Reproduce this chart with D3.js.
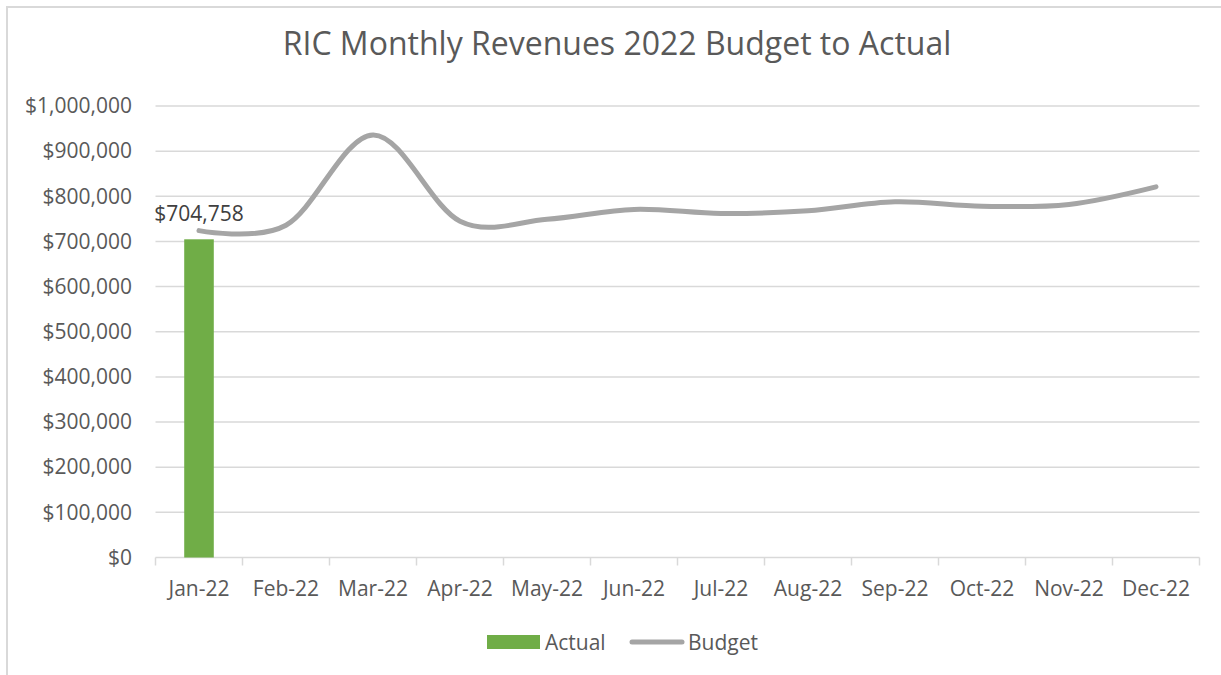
<!DOCTYPE html>
<html>
<head>
<meta charset="utf-8">
<script src="https://cdn.jsdelivr.net/npm/d3@7"></script>
<style>
  html, body { margin: 0; padding: 0; background: #ffffff; }
  svg { display: block; font-family: "Open Sans", "Noto Sans", sans-serif; }
</style>
</head>
<body>
<svg id="chart" width="1221" height="675"></svg>
<script>
// Monthly revenue data, 2022
const months = ["Jan-22", "Feb-22", "Mar-22", "Apr-22", "May-22", "Jun-22",
                "Jul-22", "Aug-22", "Sep-22", "Oct-22", "Nov-22", "Dec-22"];
const actual = [704758, null, null, null, null, null, null, null, null, null, null, null];
const budget = [724000, 736000, 936000, 745000, 749000, 771000,
                762000, 768000, 788000, 778000, 782000, 821000];
const yTicks = [0, 100000, 200000, 300000, 400000, 500000,
                600000, 700000, 800000, 900000, 1000000];
const seriesNames = ["Actual", "Budget"];

const W = 1221, H = 675;
const margin = { left: 155.5, right: 1199.5, top: 106, bottom: 557.5 };
const textColor = "#595959";
const gridColor = "#d9d9d9";
const barColor = "#70ad47";
const lineColor = "#a5a5a5";
const labelSize = 21;

const svg = d3.select("#chart");

svg.append("rect").attr("width", W).attr("height", H).attr("fill", "#ffffff");
// chart frame
svg.append("rect")
  .attr("x", 7).attr("y", 7).attr("width", W).attr("height", H)
  .attr("fill", "none").attr("stroke", gridColor).attr("stroke-width", 2);

const x = d3.scaleBand().domain(months).range([margin.left, margin.right]).padding(0);
const y = d3.scaleLinear().domain([0, 1000000]).range([margin.bottom, margin.top]);

// title
svg.append("text")
  .attr("x", 617).attr("y", 55)
  .attr("text-anchor", "middle")
  .attr("fill", textColor)
  .attr("font-size", 32)
  .text("RIC Monthly Revenues 2022 Budget to Actual");

// horizontal gridlines
svg.append("g").selectAll("line")
  .data(yTicks.filter(d => d > 0))
  .join("line")
  .attr("x1", margin.left).attr("x2", margin.right)
  .attr("y1", d => y(d)).attr("y2", d => y(d))
  .attr("stroke", gridColor).attr("stroke-width", 1.5);

// y axis labels
const yAxis = d3.axisLeft(y)
  .tickValues(yTicks)
  .tickSize(0)
  .tickPadding(0)
  .tickFormat(d => "$" + d3.format(",")(d));
const gy = svg.append("g").attr("transform", `translate(${132},0)`).call(yAxis);
gy.select(".domain").remove();
gy.selectAll("text")
  .attr("fill", textColor)
  .attr("font-size", labelSize)
  .attr("font-family", "Open Sans, sans-serif");

// x axis with category boundary ticks
const gx = svg.append("g").attr("transform", `translate(0,${margin.bottom})`);
gx.append("line")
  .attr("x1", margin.left).attr("x2", margin.right)
  .attr("stroke", gridColor).attr("stroke-width", 1.5);
const bounds = months.map(m => x(m)).concat([margin.right]);
gx.selectAll("line.tick")
  .data(bounds)
  .join("line")
  .attr("class", "tick")
  .attr("x1", d => d).attr("x2", d => d)
  .attr("y1", 0).attr("y2", 8)
  .attr("stroke", gridColor).attr("stroke-width", 1.5);
gx.selectAll("text")
  .data(months)
  .join("text")
  .attr("x", d => x(d) + x.bandwidth() / 2)
  .attr("y", 38.5)
  .attr("text-anchor", "middle")
  .attr("fill", textColor)
  .attr("font-size", labelSize)
  .text(d => d);

// actual bars
const barW = x.bandwidth() * 0.34;
const actualData = months.map((m, i) => ({ m, v: actual[i] })).filter(d => d.v != null);
svg.append("g").selectAll("rect")
  .data(actualData)
  .join("rect")
  .attr("x", d => x(d.m) + x.bandwidth() / 2 - barW / 2)
  .attr("y", d => y(d.v))
  .attr("width", barW)
  .attr("height", d => y(0) - y(d.v))
  .attr("fill", barColor);

// budget smoothed line
const line = d3.line()
  .x((d, i) => x(months[i]) + x.bandwidth() / 2)
  .y(d => y(d))
  .curve(d3.curveCatmullRom.alpha(0));
svg.append("path")
  .datum(budget)
  .attr("d", line)
  .attr("fill", "none")
  .attr("stroke", lineColor)
  .attr("stroke-width", 5)
  .attr("stroke-linecap", "round")
  .attr("stroke-linejoin", "round");

// data label for the actual value
svg.append("g").selectAll("text")
  .data(actualData)
  .join("text")
  .attr("x", d => x(d.m) + x.bandwidth() / 2)
  .attr("y", d => y(d.v) - 18)
  .attr("text-anchor", "middle")
  .attr("fill", "#404040")
  .attr("font-size", labelSize)
  .text(d => "$" + d3.format(",")(d.v));

// legend
const lg = svg.append("g");
lg.append("rect")
  .attr("x", 487).attr("y", 635).attr("width", 53).attr("height", 14)
  .attr("fill", barColor);
lg.append("text")
  .attr("x", 545).attr("y", 649.5)
  .attr("fill", textColor).attr("font-size", labelSize)
  .text(seriesNames[0]);
lg.append("line")
  .attr("x1", 632).attr("x2", 682).attr("y1", 642).attr("y2", 642)
  .attr("stroke", lineColor).attr("stroke-width", 5).attr("stroke-linecap", "round");
lg.append("text")
  .attr("x", 688).attr("y", 649.5)
  .attr("fill", textColor).attr("font-size", labelSize)
  .text(seriesNames[1]);
</script>
</body>
</html>
